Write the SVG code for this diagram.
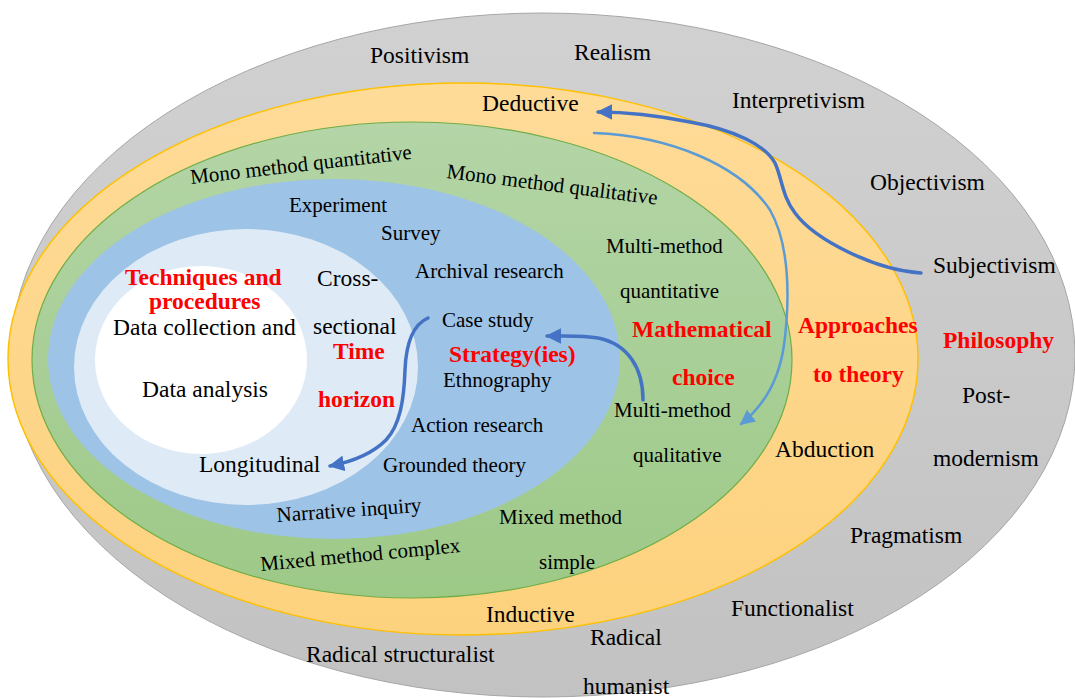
<svg xmlns="http://www.w3.org/2000/svg" width="1075" height="698" viewBox="0 0 1075 698">
<defs>
<style>
text{font-family:'Liberation Serif','Times New Roman',serif;fill:#000}
.lg{font-size:23.5px}
.sm{font-size:21px}
.rd{font-size:23.5px;font-weight:bold;fill:#ff0000}
.con{fill:none;stroke-linecap:round}
.dk{stroke:#4472c4;stroke-width:3.5}
.lt{stroke:#5b9bd5;stroke-width:2.5}
</style>
<linearGradient id="gGray" x1="0" y1="0" x2="0" y2="1"><stop offset="0" stop-color="#d1d1d1"/><stop offset="1" stop-color="#c2c2c2"/></linearGradient>
<linearGradient id="gYel" x1="0" y1="0" x2="0" y2="1"><stop offset="0" stop-color="#fedb98"/><stop offset="1" stop-color="#fdd27e"/></linearGradient>
<linearGradient id="gGrn" x1="0" y1="0" x2="0" y2="1"><stop offset="0" stop-color="#b4d5a7"/><stop offset="1" stop-color="#9dc987"/></linearGradient>
<marker id="ahD" viewBox="0 0 10 10" refX="9" refY="5" markerWidth="4.5" markerHeight="4.5" markerUnits="strokeWidth" orient="auto"><path d="M0,0 L10,5 L0,10 Z" fill="#4472c4"/></marker>
<marker id="ahL" viewBox="0 0 10 10" refX="9" refY="5" markerWidth="6" markerHeight="6" markerUnits="strokeWidth" orient="auto"><path d="M0,0 L10,5 L0,10 Z" fill="#5b9bd5"/></marker>
</defs>

<g id="philosophy">
<ellipse cx="543" cy="355" rx="532" ry="342" fill="url(#gGray)" stroke="#a6a6a6" stroke-width="1"/>
<text class="lg" x="370" y="63">Positivism</text>
<text class="lg" x="574" y="60">Realism</text>
<text class="lg" x="732" y="108">Interpretivism</text>
<text class="lg" x="870" y="190">Objectivism</text>
<text class="lg" x="933" y="273">Subjectivism</text>
<text class="rd" x="943" y="348">Philosophy</text>
<text class="lg" x="962" y="403">Post-</text>
<text class="lg" x="933" y="466">modernism</text>
<text class="lg" x="850" y="543">Pragmatism</text>
<text class="lg" x="731" y="616">Functionalist</text>
<text class="lg" x="590" y="645">Radical</text>
<text class="lg" x="583" y="694">humanist</text>
<text class="lg" x="306" y="662">Radical structuralist</text>
</g>

<g id="approaches">
<ellipse cx="463" cy="359" rx="455" ry="276" fill="url(#gYel)" stroke="#ffc000" stroke-width="1.5"/>
<text class="lg" x="482" y="111">Deductive</text>
<text class="rd" x="798" y="333">Approaches</text>
<text class="rd" x="813" y="382">to theory</text>
<text class="lg" x="775" y="457">Abduction</text>
<text class="lg" x="486" y="622">Inductive</text>
</g>

<g id="choice">
<ellipse cx="412" cy="360" rx="380" ry="238" fill="url(#gGrn)" stroke="#70ad47" stroke-width="1.2"/>
<text class="sm" x="191" y="184" transform="rotate(-6.5 191 184)">Mono method quantitative</text>
<text class="sm" x="446" y="178" transform="rotate(7.2 446 178)">Mono method qualitative</text>
<text class="sm" x="606" y="253">Multi-method</text>
<text class="sm" x="620" y="298">quantitative</text>
<text class="rd" x="632" y="337">Mathematical</text>
<text class="rd" x="672" y="385">choice</text>
<text class="sm" x="614" y="417">Multi-method</text>
<text class="sm" x="633" y="462">qualitative</text>
<text class="sm" x="499" y="524">Mixed method</text>
<text class="sm" x="539" y="569">simple</text>
<text class="sm" x="261" y="571" transform="rotate(-5.4 261 571)">Mixed method complex</text>
</g>

<g id="strategies">
<ellipse cx="334" cy="359" rx="286" ry="180" fill="#9dc3e6"/>
<text class="sm" x="289" y="212">Experiment</text>
<text class="sm" x="381" y="240">Survey</text>
<text class="sm" x="415" y="278">Archival research</text>
<text class="sm" x="442" y="327">Case study</text>
<text class="rd" x="449" y="362">Strategy(ies)</text>
<text class="sm" x="443" y="387">Ethnography</text>
<text class="sm" x="411" y="432">Action research</text>
<text class="sm" x="383" y="472">Grounded theory</text>
<text class="sm" x="277" y="522" transform="rotate(-4 277 522)">Narrative inquiry</text>
</g>

<g id="time-horizon">
<ellipse cx="246" cy="367" rx="172" ry="138" fill="#deebf7"/>
<text class="lg" x="317" y="286">Cross-</text>
<text class="lg" x="313" y="334">sectional</text>
<text class="rd" x="333" y="359">Time</text>
<text class="rd" x="318" y="407">horizon</text>
<text class="lg" x="199" y="472">Longitudinal</text>
</g>

<g id="techniques">
<ellipse cx="201" cy="360" rx="106" ry="94" fill="#ffffff"/>
<text class="rd" x="125" y="285">Techniques and</text>
<text class="rd" x="149" y="309">procedures</text>
<text class="lg" x="113" y="335">Data collection and</text>
<text class="lg" x="142" y="397">Data analysis</text>
</g>

<g id="connectors">
<path class="con dk" d="M921,273 C875,270 815,240 795,213 C782,196 782,178 775,163 C765,145 735,130 690,122 C660,116 630,112 598,112" marker-end="url(#ahD)"/>
<path class="con lt" d="M594,133 C670,136 740,165 770,210 C790,245 790,300 784,345 C779,380 765,405 741,424" marker-end="url(#ahL)"/>
<path class="con dk" d="M643,400 C643,368 628,344 598,338 C582,335 566,336 547,336" marker-end="url(#ahD)"/>
<path class="con dk" d="M428,318 C412,325 406,345 405,370 C404,400 400,425 386,440 C373,453 356,461 330,466" marker-end="url(#ahD)"/>
</g>
</svg>
